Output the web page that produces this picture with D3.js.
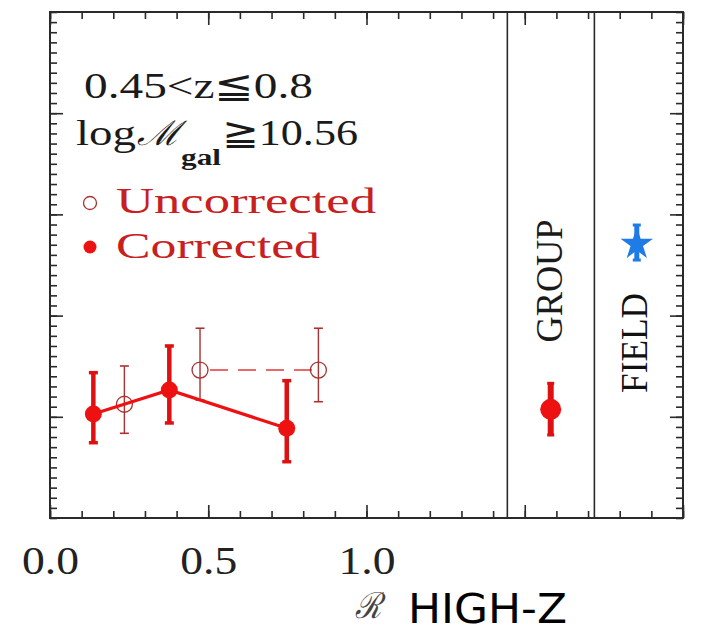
<!DOCTYPE html>
<html>
<head>
<meta charset="utf-8">
<script src="https://cdn.jsdelivr.net/npm/d3@7"></script>
<style>
  html, body { margin: 0; padding: 0; background: #fff; }
  svg { display: block; }
</style>
</head>
<body>
<svg id="chart" width="722" height="633"></svg>
<script>
// ---------------- data ----------------
const xMajorTicks = [0, 0.5, 1.0, 1.5, 2.0];
const xTickLabels = ["0.0", "0.5", "1.0"];
const xTickLabelValues = [0, 0.5, 1.0];
const yMajorTicks = [1, 2, 3, 4];

// Corrected (filled, solid line)
const corrR   = [0.137, 0.377, 0.748];
const corrVal = [1.028, 1.265, 0.886];
const corrLo  = [0.744, 0.939, 0.556];
const corrHi  = [1.436, 1.700, 1.357];

// Uncorrected (open, dashed line)
const uncR   = [0.235, 0.474, 0.848];
const uncVal = [1.124, 1.462, 1.462];
const uncLo  = [0.837, 1.166, 1.149];
const uncHi  = [1.502, 1.875, 1.875];

// Group / field
const groupX = [1.582], groupVal = [1.074], groupLo = [0.820], groupHi = [1.331];
const fieldX = [1.854], fieldVal = [2.727], fieldLo = [2.549], fieldHi = [2.895];

const panelDividers = [1.445, 1.720];

// ---------------- layout ----------------
const L = 50, R = 683, T = 12, B = 518;
const svg = d3.select("#chart");
const x = d3.scaleLinear().domain([0, 2]).range([L, R]);
const y = d3.scaleLinear().domain([0, 5]).range([B, T]);

const RED = "#ee1111";
const DARKRED = "#a83232";
const FRAME = "#2a2a2a";
const SERIF = "'Liberation Serif', 'Times New Roman', serif";

// ---------------- axes (ticks inward) ----------------
const minorX = d3.range(0, 2.0001, 0.1).map(v => +v.toFixed(2));
const minorY = d3.range(0, 5.0001, 0.1).map(v => +v.toFixed(2));

function styleAxis(g) {
  g.select(".domain").remove();
  g.selectAll(".tick line").attr("stroke", FRAME).attr("stroke-width", 1.6);
  g.selectAll(".tick text").remove();
}
// bottom
svg.append("g").attr("transform", `translate(0,${B})`)
  .call(d3.axisBottom(x).tickValues(minorX).tickSize(-7)).call(styleAxis);
svg.append("g").attr("transform", `translate(0,${B})`)
  .call(d3.axisBottom(x).tickValues(xMajorTicks).tickSize(-13)).call(styleAxis);
// top
svg.append("g").attr("transform", `translate(0,${T})`)
  .call(d3.axisTop(x).tickValues(minorX).tickSize(-7)).call(styleAxis);
svg.append("g").attr("transform", `translate(0,${T})`)
  .call(d3.axisTop(x).tickValues(xMajorTicks).tickSize(-13)).call(styleAxis);
// left
svg.append("g").attr("transform", `translate(${L},0)`)
  .call(d3.axisLeft(y).tickValues(minorY).tickSize(-7)).call(styleAxis);
svg.append("g").attr("transform", `translate(${L},0)`)
  .call(d3.axisLeft(y).tickValues(yMajorTicks).tickSize(-13)).call(styleAxis);
// right
svg.append("g").attr("transform", `translate(${R},0)`)
  .call(d3.axisRight(y).tickValues(minorY).tickSize(-7)).call(styleAxis);
svg.append("g").attr("transform", `translate(${R},0)`)
  .call(d3.axisRight(y).tickValues(yMajorTicks).tickSize(-13)).call(styleAxis);

// frame
svg.append("rect").attr("x", L).attr("y", T).attr("width", R - L).attr("height", B - T)
  .attr("fill", "none").attr("stroke", FRAME).attr("stroke-width", 2);

// panel dividers
svg.selectAll(".divider").data(panelDividers).enter().append("line")
  .attr("x1", d => x(d)).attr("x2", d => x(d)).attr("y1", T).attr("y2", B)
  .attr("stroke", FRAME).attr("stroke-width", 1.6);

// x tick labels via axis
const labAxis = svg.append("g").attr("transform", `translate(0,${B})`)
  .call(d3.axisBottom(x).tickValues(xTickLabelValues).tickSize(0)
        .tickFormat((d, i) => xTickLabels[i]));
labAxis.select(".domain").remove();
labAxis.selectAll(".tick text")
  .attr("y", 56).attr("dy", 0)
  .attr("font-family", SERIF).attr("font-size", 40).attr("fill", "#222")
  .attr("textLength", 57).attr("lengthAdjust", "spacingAndGlyphs");

// ---------------- data marks ----------------
function errorBars(xs, lo, hi, color, width, capW, capH) {
  const g = svg.append("g");
  xs.forEach((xv, i) => {
    g.append("line").attr("x1", x(xv)).attr("x2", x(xv))
      .attr("y1", y(lo[i])).attr("y2", y(hi[i]))
      .attr("stroke", color).attr("stroke-width", width);
    [lo[i], hi[i]].forEach(v => {
      g.append("line").attr("x1", x(xv) - capW / 2).attr("x2", x(xv) + capW / 2)
        .attr("y1", y(v)).attr("y2", y(v))
        .attr("stroke", color).attr("stroke-width", capH);
    });
  });
}

// uncorrected dashed line (the segment hidden behind the corrected line in the
// reference is not visible, so only the visible part is drawn)
const unc = uncR.map((r, i) => [r, uncVal[i]]);
svg.append("path").datum(unc.slice(1))
  .attr("d", d3.line().x(d => x(d[0])).y(d => y(d[1])))
  .attr("fill", "none").attr("stroke", "#e86a6a").attr("stroke-width", 2)
  .attr("stroke-dasharray", "18,10").attr("stroke-dashoffset", -10);
errorBars(uncR, uncLo, uncHi, DARKRED, 1.4, 9, 1.6);
svg.selectAll(".unc").data(unc).enter().append("circle")
  .attr("cx", d => x(d[0])).attr("cy", d => y(d[1])).attr("r", 8)
  .attr("fill", "none").attr("stroke", DARKRED).attr("stroke-width", 1.3);

// corrected solid line
const corr = corrR.map((r, i) => [r, corrVal[i]]);
svg.append("path").datum(corr)
  .attr("d", d3.line().x(d => x(d[0])).y(d => y(d[1])))
  .attr("fill", "none").attr("stroke", RED).attr("stroke-width", 3.2);
errorBars(corrR, corrLo, corrHi, "#dd1111", 4.5, 9, 3.5);
svg.selectAll(".corr").data(corr).enter().append("circle")
  .attr("cx", d => x(d[0])).attr("cy", d => y(d[1])).attr("r", 8.5)
  .attr("fill", RED);

// group point
errorBars(groupX, groupLo, groupHi, "#dd1111", 6, 7, 3);
svg.append("circle").attr("cx", x(groupX[0])).attr("cy", y(groupVal[0])).attr("r", 10.5)
  .attr("fill", RED);

// field star
const BLUE = "#1f7be6";
errorBars(fieldX, fieldLo, fieldHi, BLUE, 5, 8, 3);
svg.append("path")
  .attr("d", d3.symbol().type(d3.symbolStar).size(330)())
  .attr("transform", `translate(${x(fieldX[0])},${y(fieldVal[0]) + 2})`)
  .attr("fill", BLUE);

// ---------------- text ----------------
const txt = (s, px, py, opts = {}) => {
  const t = svg.append("text").attr("x", px).attr("y", py).text(s)
    .attr("font-family", opts.family || SERIF)
    .attr("font-size", opts.size || 35)
    .attr("fill", opts.fill || "#1a1a1a");
  if (opts.len) t.attr("textLength", opts.len).attr("lengthAdjust", "spacingAndGlyphs");
  if (opts.weight) t.attr("font-weight", opts.weight);
  if (opts.style) t.attr("font-style", opts.style);
  if (opts.transform) t.attr("transform", opts.transform);
  if (opts.anchor) t.attr("text-anchor", opts.anchor);
  return t;
};

txt("0.45<z≦0.8", 84, 98, { size: 36, len: 229 });
txt("log", 76, 145, { size: 36, len: 60 });
txt("ℳ", 137, 145, { size: 34, len: 43, style: "italic", family: "'DejaVu Serif', serif" });
txt("gal", 181, 165, { size: 24, len: 40, weight: "bold" });
txt("≧10.56", 222, 145, { size: 36, len: 136 });

// legend
const LEG = "#c82020";
svg.append("circle").attr("cx", 90).attr("cy", 203).attr("r", 6.5)
  .attr("fill", "none").attr("stroke", DARKRED).attr("stroke-width", 1.3);
txt("Uncorrected", 116, 213, { size: 36, len: 260, fill: LEG });
svg.append("circle").attr("cx", 90).attr("cy", 247).attr("r", 6.5).attr("fill", RED);
txt("Corrected", 116, 258, { size: 36, len: 204, fill: LEG });

// panel labels (rotated)
txt("GROUP", 0, 0, { size: 37, len: 123, anchor: "middle",
  transform: `translate(562,281) rotate(-90)` });
txt("FIELD", 0, 0, { size: 37, len: 100, anchor: "middle", fill: "#111",
  transform: `translate(647,343) rotate(-90)` });

// axis title
txt("ℛ", 355, 618, { size: 36, len: 26, style: "italic", fill: "#444",
  family: "'DejaVu Serif', serif" });
txt("HIGH-Z", 408, 623, { size: 40, len: 159, fill: "#000",
  family: "'DejaVu Sans', sans-serif" });
</script>
</body>
</html>
